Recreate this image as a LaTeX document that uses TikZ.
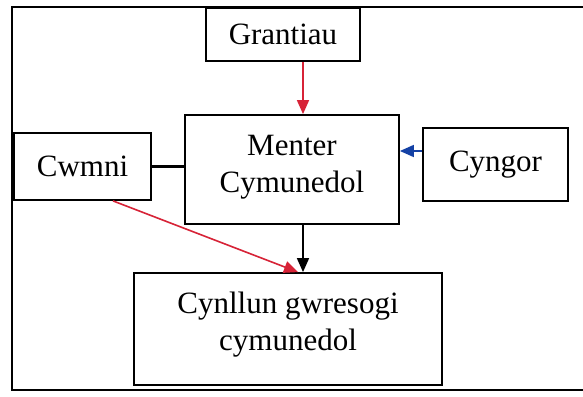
\documentclass[tikz,border=0pt]{standalone}
\usepackage{fontspec}
\setmainfont{Liberation Serif}
\usetikzlibrary{arrows.meta}
\definecolor{redline}{RGB}{215,35,55}
\definecolor{blueline}{RGB}{20,65,165}
\begin{document}
\begin{tikzpicture}[x=1pt,y=-1pt,
  box/.style={draw=black,line width=1.8pt,rectangle,inner sep=0pt,align=center,
    font=\fontsize{31}{37}\selectfont},
  conn/.style={line width=1.6pt,-{Triangle[length=14pt,width=12pt]}}]
\useasboundingbox (0,0) rectangle (583,396);
\fill[white] (0,0) rectangle (583,396);
\draw[line width=1.8pt] (595,7) -- (12,7) -- (12,390) -- (595,390);
\node[box,minimum width=154pt,minimum height=53pt] (gr) at (283,34.5) {Grantiau};
\node[box,minimum width=214pt,minimum height=109pt,text depth=11pt] (me) at (292,169.5) {Menter\\Cymunedol};
\node[box,minimum width=137pt,minimum height=67pt] (cw) at (82.5,166.5) {Cwmni};
\node[box,minimum width=145pt,minimum height=73pt] (cy) at (495.5,164.5) {Cyngor};
\node[box,minimum width=308pt,minimum height=112pt,text depth=16pt] (pl) at (288,329) {Cynllun gwresogi\\cymunedol};
\draw[conn,redline] ([xshift=20pt]gr.south) -- ([xshift=20pt]gr.south |- me.north);
\draw[line width=3.5pt] (cw.east) -- (cw.east -| me.west);
\draw[conn,blueline] ([yshift=13.5pt]cy.west) -- ([yshift=13.5pt]cy.west -| me.east);
\draw[conn,black] ([xshift=11pt]me.south) -- ([xshift=11pt]me.south |- pl.north);
\draw[conn,redline] ([xshift=30.5pt]cw.south) -- ([xshift=10pt]pl.north);
\end{tikzpicture}
\end{document}
